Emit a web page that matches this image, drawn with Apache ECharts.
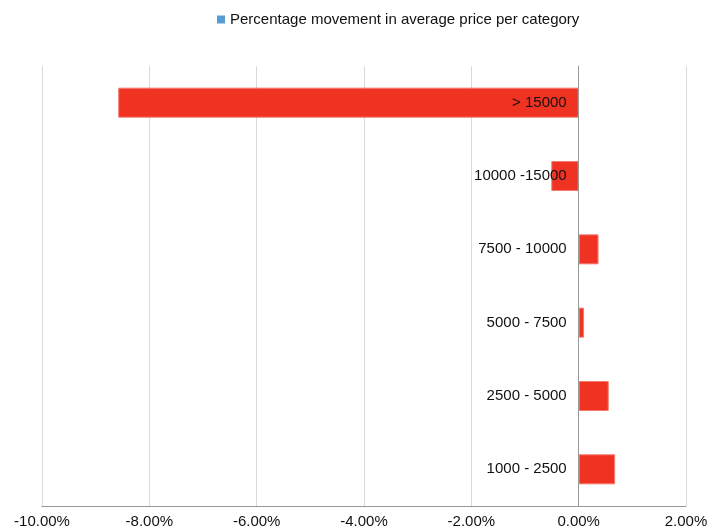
<!DOCTYPE html>
<html>
<head>
<meta charset="utf-8">
<script src="https://cdn.jsdelivr.net/npm/echarts@6/dist/echarts.min.js"></script>
<style>html,body{margin:0;padding:0;background:#fff}#c{width:721px;height:531px}</style>
</head>
<body>
<div id="c"></div>
<script>
var categories = ['1000 - 2500', '2500 - 5000', '5000 - 7500', '7500 - 10000', '10000 -15000', '> 15000'];
var values = [0.68, 0.56, 0.10, 0.37, -0.51, -8.58];
var seriesName = 'Percentage movement in average price per category';
var xTicks = [-10, -8, -6, -4, -2, 0, 2];

var FONT = 'Liberation Sans, Arial, sans-serif';
var GRID_LEFT = 42;
var chart = echarts.init(document.getElementById('c'));
chart.setOption({
  animation: false,
  textStyle: { fontFamily: FONT },
  legend: {
    top: 7,
    left: 212,
    icon: 'rect',
    itemWidth: 8,
    itemHeight: 8,
    itemGap: 4,
    textStyle: { fontSize: 15, color: '#111', fontFamily: FONT },
    data: [{ name: seriesName, itemStyle: { color: '#5b9bd5', borderWidth: 0 } }]
  },
  grid: { left: GRID_LEFT, right: 35, top: 66, bottom: 25, containLabel: false, outerBoundsMode: 'none' },
  xAxis: {
    type: 'value',
    min: xTicks[0],
    max: xTicks[xTicks.length - 1],
    interval: 2,
    axisLine: { show: true, onZero: false, lineStyle: { color: '#999' } },
    axisTick: { show: false },
    splitLine: { show: true, lineStyle: { color: '#d9d9d9' } },
    axisLabel: {
      fontSize: 15, color: '#111', margin: 8,
      formatter: function (v) { return v.toFixed(2) + '%'; }
    }
  },
  yAxis: {
    type: 'category',
    data: categories,
    z: 5,
    axisLine: { show: true, onZero: false, lineStyle: { color: '#999' } },
    axisTick: { show: false },
    axisLabel: { fontSize: 15, color: '#111', margin: 12 }
  },
  series: [{
    name: seriesName,
    type: 'bar',
    data: values,
    barWidth: 30,
    itemStyle: { color: '#f03223', borderColor: '#f47a70', borderWidth: 1 }
  }]
});
// move the category axis (line + labels) onto the zero of the value axis
var zeroX = chart.convertToPixel({ xAxisIndex: 0 }, 0);
chart.setOption({ yAxis: { offset: -(zeroX - GRID_LEFT) } });
</script>
</body>
</html>
